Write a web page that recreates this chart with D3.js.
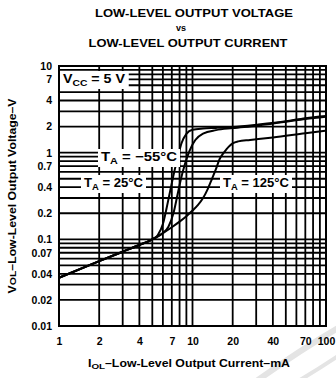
<!DOCTYPE html>
<html>
<head>
<meta charset="utf-8">
<script src="https://cdn.jsdelivr.net/npm/d3@7"></script>
<style>
  html, body { margin: 0; padding: 0; background: #fff; }
  svg { display: block; }
  text { font-family: "Liberation Sans", Arial, sans-serif; font-weight: bold; fill: #000; }
</style>
</head>
<body>
<script>
// Axis ticks (mA and V, log scales)
const xTickValues = [1, 2, 4, 7, 10, 20, 40, 70, 100];
const yTickValues = [10, 7, 4, 2, 1, 0.7, 0.4, 0.2, 0.1, 0.07, 0.04, 0.02, 0.01];

// Low-level output current, mA, and output voltage, V, for each ambient temperature
const currentMinus55 = [1, 2, 3, 4, 5, 5.5, 6, 6.4, 6.8, 7.3, 7.8, 8.3, 9, 10, 12, 15, 20, 30, 50, 70, 100];
const voltageMinus55 = [0.036, 0.056, 0.072, 0.086, 0.1, 0.112, 0.15, 0.23, 0.36, 0.6, 0.92, 1.3, 1.65, 1.84, 1.9, 1.93, 1.98, 2.1, 2.3, 2.5, 2.65];

const current25 = [1, 2, 3, 4, 5, 6, 6.6, 7.2, 7.7, 8.2, 8.8, 9.5, 10.5, 12, 15, 20, 30, 50, 70, 100];
const voltage25 = [0.036, 0.056, 0.072, 0.086, 0.1, 0.118, 0.14, 0.2, 0.32, 0.5, 0.75, 1.05, 1.4, 1.66, 1.82, 1.92, 2.05, 2.27, 2.45, 2.6];

const current125 = [1, 2, 3, 4, 5, 6, 7, 8, 9, 10, 11, 12, 13, 14, 15, 16, 17, 18, 19, 20, 22, 27, 40, 70, 100];
const voltage125 = [0.036, 0.056, 0.072, 0.086, 0.1, 0.118, 0.138, 0.16, 0.185, 0.215, 0.25, 0.3, 0.38, 0.5, 0.65, 0.85, 0.98, 1.1, 1.2, 1.28, 1.35, 1.4, 1.5, 1.68, 1.8];

const W = 336, H = 378;
const plot = { left: 59, right: 326, top: 66, bottom: 326 };

const svg = d3.select("body").append("svg")
  .attr("width", W).attr("height", H);

const x = d3.scaleLog().domain([1, 100]).range([plot.left, plot.right]);
const y = d3.scaleLog().domain([0.01, 10]).range([plot.bottom, plot.top]);

// Faint watermark strokes in the lower right corner
const wm = svg.append("g").attr("fill", "none").attr("stroke", "#e4e4e4").attr("stroke-linecap", "round");
wm.append("path").attr("d", "M258,380 Q300,350 338,328").attr("stroke-width", 6);
wm.append("path").attr("d", "M300,380 Q320,368 338,356").attr("stroke-width", 4);

// Grid: every 1..9 step of each decade
const xGrid = [];
[1, 10].forEach(d => { for (let k = 1; k <= 9; k++) xGrid.push(d * k); });
xGrid.push(100);
const yGrid = [];
[0.01, 0.1, 1].forEach(d => { for (let k = 1; k <= 9; k++) yGrid.push(d * k); });
yGrid.push(10);

const grid = svg.append("g").attr("stroke", "#000");
grid.selectAll("line.v").data(xGrid).join("line")
  .attr("class", "v")
  .attr("x1", d => x(d)).attr("x2", d => x(d))
  .attr("y1", plot.top).attr("y2", plot.bottom)
  .attr("stroke-width", 1.8);
grid.selectAll("line.h").data(yGrid).join("line")
  .attr("class", "h")
  .attr("x1", plot.left).attr("x2", plot.right)
  .attr("y1", d => y(d)).attr("y2", d => y(d))
  .attr("stroke-width", 1.8);

svg.append("rect")
  .attr("x", plot.left).attr("y", plot.top)
  .attr("width", plot.right - plot.left).attr("height", plot.bottom - plot.top)
  .attr("fill", "none").attr("stroke", "#000").attr("stroke-width", 2);

// Curves
const line = d3.line()
  .x(d => x(d[0])).y(d => y(d[1]))
  .curve(d3.curveMonotoneX);
const series = [
  [currentMinus55, voltageMinus55],
  [current25, voltage25],
  [current125, voltage125]
];
svg.append("g").selectAll("path").data(series).join("path")
  .attr("d", s => line(d3.zip(s[0], s[1])))
  .attr("fill", "none").attr("stroke", "#000").attr("stroke-width", 2);

// Boxed labels inside the plot
function boxedLabel(px, py, parts, size, width) {
  const g = svg.append("g");
  const bg = g.append("rect").attr("fill", "#fff");
  const t = g.append("text").attr("x", px).attr("y", py).attr("font-size", size);
  if (width) t.attr("textLength", width).attr("lengthAdjust", "spacingAndGlyphs");
  parts.forEach(p => {
    const ts = t.append("tspan").text(p.t);
    if (p.sub) ts.attr("font-size", size * 0.72).attr("dy", 3);
    if (p.up) ts.attr("dy", -3);
  });
  const b = t.node().getBBox();
  bg.attr("x", b.x - 3).attr("y", b.y - 1).attr("width", b.width + 6).attr("height", b.height + 2);
}
boxedLabel(63, 83, [{ t: "V" }, { t: "CC", sub: true }, { t: " = 5 V", up: true }], 12.5, 62);
boxedLabel(101, 161, [{ t: "T" }, { t: "A", sub: true }, { t: " = −55°C", up: true }], 12.5, 76);
boxedLabel(84, 187, [{ t: "T" }, { t: "A", sub: true }, { t: " = 25°C", up: true }], 12.5, 59);
boxedLabel(223, 187, [{ t: "T" }, { t: "A", sub: true }, { t: " = 125°C", up: true }], 12.5, 66);

// Axes tick labels
const xAxis = d3.axisBottom(x).tickValues(xTickValues).tickFormat(d3.format("~g")).tickSize(0).tickPadding(12);
const gx = svg.append("g").attr("transform", `translate(0,${plot.bottom})`).call(xAxis);
gx.select(".domain").remove();
gx.selectAll("text").attr("font-size", 10.5).attr("font-family", "Liberation Sans, Arial, sans-serif").attr("font-weight", "bold");

const yAxis = d3.axisLeft(y).tickValues(yTickValues).tickFormat(d3.format("~g")).tickSize(0).tickPadding(7);
const gy = svg.append("g").attr("transform", `translate(${plot.left},0)`).call(yAxis);
gy.select(".domain").remove();
gy.selectAll("text").attr("font-size", 10.5).attr("font-family", "Liberation Sans, Arial, sans-serif").attr("font-weight", "bold");

// Titles
svg.append("text").attr("x", 194).attr("y", 17).attr("text-anchor", "middle")
  .attr("font-size", 11).attr("textLength", 198).attr("lengthAdjust", "spacingAndGlyphs")
  .text("LOW-LEVEL OUTPUT VOLTAGE");
svg.append("text").attr("x", 181).attr("y", 31).attr("text-anchor", "middle")
  .attr("font-size", 9).text("vs");
svg.append("text").attr("x", 188).attr("y", 47).attr("text-anchor", "middle")
  .attr("font-size", 11).attr("textLength", 199).attr("lengthAdjust", "spacingAndGlyphs")
  .text("LOW-LEVEL OUTPUT CURRENT");

const xt = svg.append("text").attr("x", 189).attr("y", 367).attr("text-anchor", "middle")
  .attr("font-size", 10).attr("textLength", 202).attr("lengthAdjust", "spacingAndGlyphs");
xt.append("tspan").text("I");
xt.append("tspan").attr("font-size", 8).attr("dy", 2).text("OL");
xt.append("tspan").attr("dy", -2).text("–Low-Level Output Current–mA");

const yt = svg.append("text").attr("transform", `translate(16,${(plot.top + plot.bottom) / 2}) rotate(-90)`)
  .attr("text-anchor", "middle").attr("font-size", 10.5)
  .attr("textLength", 195).attr("lengthAdjust", "spacingAndGlyphs");
yt.append("tspan").text("V");
yt.append("tspan").attr("font-size", 9).text("OL");
yt.append("tspan").text("–Low-Level Output Voltage–V");
</script>
</body>
</html>
